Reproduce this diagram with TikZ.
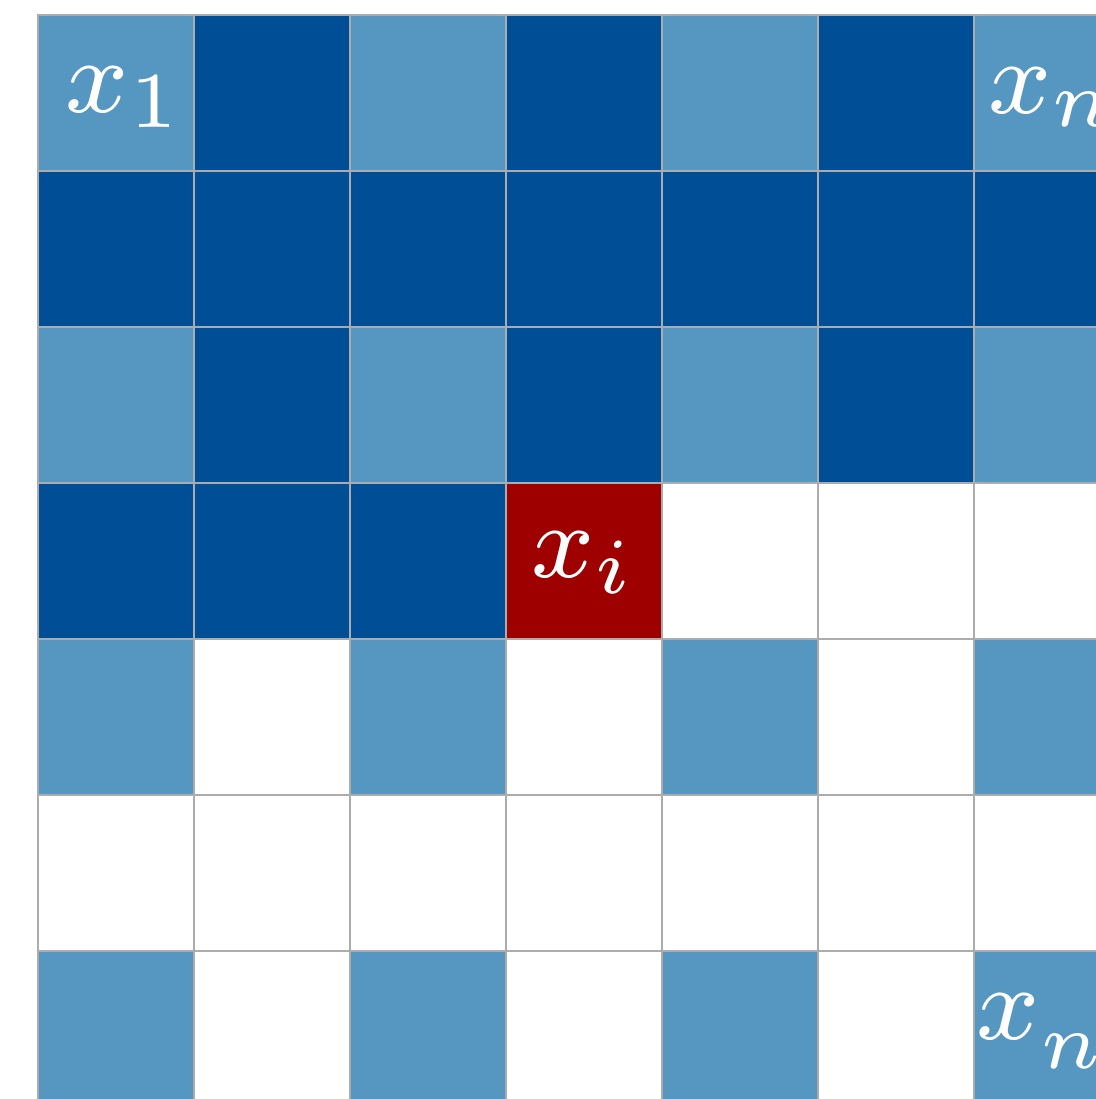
\documentclass[tikz,border=0pt]{standalone}
\definecolor{cellL}{RGB}{86,151,194}
\definecolor{cellD}{RGB}{0,79,150}
\definecolor{cellR}{RGB}{158,0,0}
\definecolor{cellW}{RGB}{255,255,255}
\definecolor{gridgray}{RGB}{172,172,172}
\tikzset{
  cellbox/.style={draw=gridgray, line width=1pt},
  lab/.style={text=white, font=\footnotesize, scale=6.6, inner sep=0pt}
}
\begin{document}
\begin{tikzpicture}[x=0.5pt,y=-0.5pt]
\useasboundingbox (0,0) rectangle (1096,1099);
\clip (0,0) rectangle (1096,1099);
\fill[white] (0,0) rectangle (1096,1099);
\foreach \cells [count=\j from 0] in {
  {L,D,L,D,L,D,L},
  {D,D,D,D,D,D,D},
  {L,D,L,D,L,D,L},
  {D,D,D,R,W,W,W},
  {L,W,L,W,L,W,L},
  {W,W,W,W,W,W,W},
  {L,W,L,W,L,W,L}}{
  \foreach \t [count=\i from 0] in \cells {
    \filldraw[cellbox, fill=cell\t] ({38+156*\i},{15+156*\j}) rectangle ++(156,156);
  }
}
\node[lab] (x1) at (125,97) {$x_1$};
\node[lab] (xn) at (1054,97) {$x_n$};
\node[lab] (xi) at (584,563) {$x_i$};
\node[lab] (xnn) at (1068,1031) {$x_{n^2}$};
\end{tikzpicture}
\end{document}
